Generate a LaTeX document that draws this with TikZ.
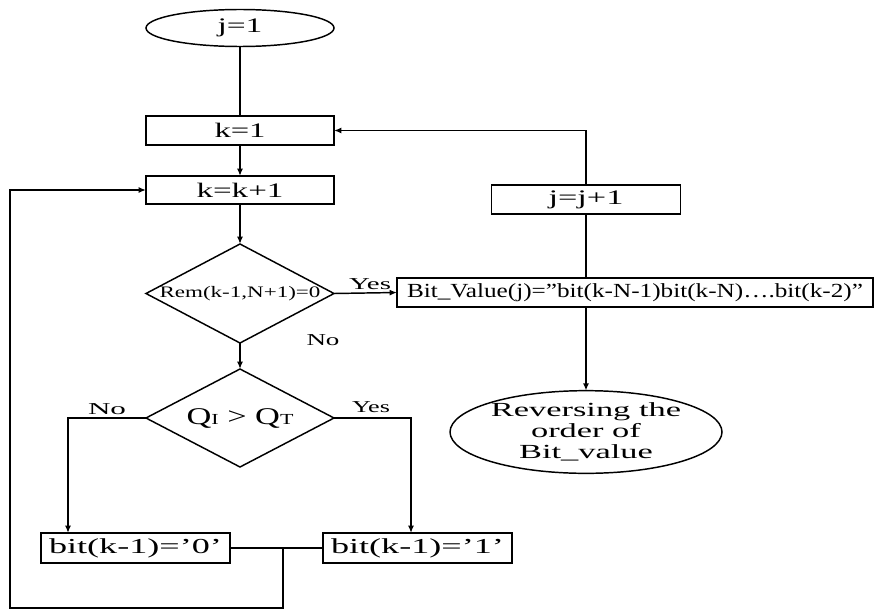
\documentclass[tikz,border=0pt]{standalone}
\usepackage{fontspec}
\setmainfont{Liberation Serif}
\usetikzlibrary{shapes.geometric,arrows.meta}
\newlength\fitlen
\newcommand\fitw[2]{\settowidth\fitlen{#2}\pgfmathsetmacro\fitf{#1/\fitlen}\scalebox{\fitf}[1]{#2}}
\newcommand\fA{\fontsize{15.5}{18}\selectfont}
\newcommand\fB{\fontsize{12}{14}\selectfont}
\newcommand\fC{\fontsize{15}{15.75}\selectfont}
\newcommand\fD{\fontsize{18}{20}\selectfont}
\newcommand\fE{\fontsize{16}{18}\selectfont}
\newcommand\fL{\fontsize{12.5}{14}\selectfont}
\newcommand\fS{\fontsize{11.5}{12}\selectfont}
\newcommand\fV{\fontsize{15}{17}\selectfont}
\begin{document}
\begin{tikzpicture}[x=0.75pt,y=-0.75pt,line width=1.1pt,
  every node/.style={inner sep=0pt,outer sep=0pt},
  box/.style={draw,rectangle},
  ell/.style={draw,ellipse},
  dia/.style={draw,diamond},
  arr/.style={-{Latex[length=5.5pt,width=4.5pt]}}]
\useasboundingbox (0,0) rectangle (877,610);

\node[ell,minimum width=188*0.75pt,minimum height=37*0.75pt,font=\fA] (start) at (240,28) {\fitw{45*0.75pt}{j=1}};
\node[box,minimum width=188*0.75pt,minimum height=29*0.75pt,font=\fA] (k1) at (240,130.5) {\fitw{51*0.75pt}{k=1}};
\node[box,minimum width=188*0.75pt,minimum height=28*0.75pt,font=\fA] (kk) at (240,190) {\fitw{87*0.75pt}{k=k+1}};
\node[dia,minimum width=188*0.75pt,minimum height=99*0.75pt] (d1) at (240,293.5) {};
\node[font=\fB] (d1t) at (d1) {\fitw{161*0.75pt}{Rem(k-1,N+1)=0}};
\node[box,minimum width=476*0.75pt,minimum height=29*0.75pt,font=\fV] (bv) at (635,292.5) {\fitw{456*0.75pt}{Bit\_Value(j)=”bit(k-N-1)bit(k-N)….bit(k-2)”}};
\node[box,minimum width=189*0.75pt,minimum height=29*0.75pt,font=\fA] (jj) at (586,199.5) {\fitw{75*0.75pt}{j=j+1}};
\node[ell,minimum width=272*0.75pt,minimum height=75*0.75pt,font=\fC,align=center] (rev) at (586,432)
  {\scalebox{1.72}[1]{Reversing the}\\\scalebox{1.72}[1]{order of}\\\scalebox{1.72}[1]{Bit\_value}};
\node[dia,minimum width=188*0.75pt,minimum height=98*0.75pt] (d2) at (240,418) {};
\node[font=\fD] (d2t) at (d2) {\fitw{107*0.75pt}{Q{\fS I} > Q{\fS T}}};
\node[box,minimum width=189*0.75pt,minimum height=30*0.75pt,font=\fE] (b0) at (135.5,548) {\fitw{173*0.75pt}{bit(k-1)=’0’}};
\node[box,minimum width=189*0.75pt,minimum height=30*0.75pt,font=\fE] (b1) at (417.5,548) {\fitw{173*0.75pt}{bit(k-1)=’1’}};

\node[font=\fL] (yes1) at (370,284) {\fitw{42*0.75pt}{Yes}};
\node[font=\fL] (no1) at (323,340) {\fitw{33*0.75pt}{No}};
\node[font=\fL] (no2) at (107,409) {\fitw{38*0.75pt}{No}};
\node[font=\fL] (yes2) at (371,407) {\fitw{38*0.75pt}{Yes}};

\coordinate (nL) at (68,418);
\coordinate (nR) at (411,418);
\coordinate (jn) at (283,548);
\coordinate (lb) at (10,608);

\draw (start) -- (k1);
\draw[arr] (k1) -- (kk);
\draw[arr] (kk) -- (d1);
\draw[arr] (d1.east) -- (bv.west);
\draw[arr] (d1.south) -- (d2.north);
\draw[arr] (d2.west) -- (nL) -- (nL |- b0.north);
\draw[arr] (d2.east) -- (nR) -- (nR |- b1.north);
\draw (b0.east) -- (b1.west);
\draw[arr] (jn) -- (jn |- lb) -- (lb) -- (lb |- kk.west) -- (kk.west);
\draw (jj.south |- bv.north) -- (jj.south);
\draw[arr] (jj.north) -- (jj.north |- k1.east) -- (k1.east);
\draw[arr] (jj.south |- bv.south) -- (rev.north);
\end{tikzpicture}
\end{document}
